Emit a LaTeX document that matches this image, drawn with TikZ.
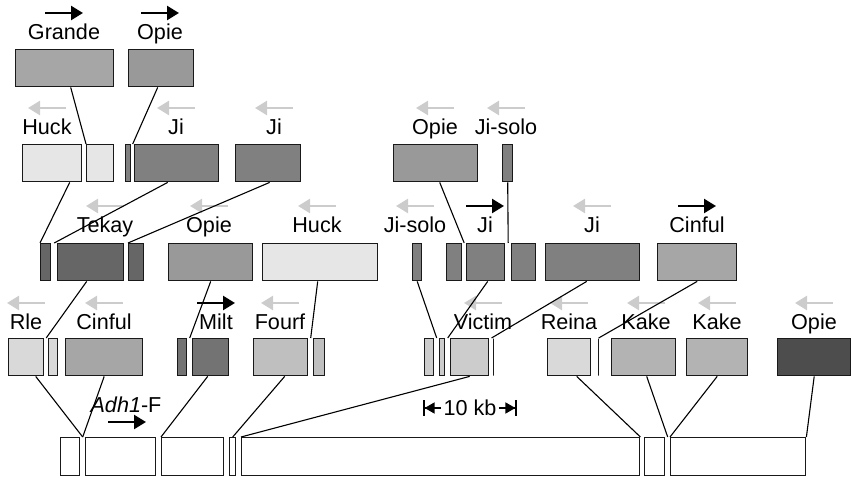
\documentclass[tikz,border=0pt]{standalone}
\usepackage{fontspec}
\setmainfont{Liberation Sans}
\usetikzlibrary{arrows.meta,calc}
\definecolor{huckgray}{HTML}{E6E6E6}
\definecolor{rlegray}{HTML}{D9D9D9}
\definecolor{victimgray}{HTML}{CCCCCC}
\definecolor{fourfgray}{HTML}{BFBFBF}
\definecolor{kakegray}{HTML}{B3B3B3}
\definecolor{cinfulgray}{HTML}{A6A6A6}
\definecolor{opiegray}{HTML}{999999}
\definecolor{jigray}{HTML}{808080}
\definecolor{miltgray}{HTML}{737373}
\definecolor{tekaygray}{HTML}{666666}
\definecolor{darkopie}{HTML}{4D4D4D}
\definecolor{revgray}{HTML}{CCCCCC}
\newlength{\px}
\setlength{\px}{0.5pt}
\tikzset{
  seg/.style={
    draw=black!90, line width=0.7pt, anchor=north west, inner sep=0pt,
    minimum height=37\px
  },
  bar/.style={seg, minimum width=0pt},
  tename/.style={anchor=base, inner sep=0pt, font=\fontsize{10.8}{13}\selectfont},
  fwdarrow/.style={-{Triangle[length=6pt,width=7pt]}, line width=1.2pt, black},
  revarrow/.style={-{Triangle[length=6pt,width=7pt]}, line width=1.2pt, revgray},
  link/.style={line width=0.55pt, black},
  scalearrow/.style={-{Triangle[length=5pt,width=5.5pt]Bar[width=8pt,line width=0.8pt]}, line width=0.8pt}
}

\begin{document}
\begin{tikzpicture}[x=1\px, y=-1\px]
  \useasboundingbox (0,0) rectangle (852,480);

  % Row 1
  \node[seg, fill=cinfulgray, minimum width=98\px] (grande) at (15,49) {};
  \node[seg, fill=opiegray, minimum width=65\px] (opieA) at (128,49) {};
  \node[tename] (grandeL) at (64,40) {Grande};
  \node[tename] (opieAL) at (160,40) {Opie};
  \draw[fwdarrow] ([shift={(-19,-27)}]grandeL.base) -- ++(38,0);
  \draw[fwdarrow] ([shift={(-19,-27)}]opieAL.base) -- ++(38,0);

  % Row 2
  \node[seg, fill=huckgray, minimum width=59\px] (huckA) at (22,144) {};
  \node[seg, fill=huckgray, minimum width=27\px] (huckB) at (86,144) {};
  \node[seg, fill=jigray, minimum width=5\px] (jiAa) at (125,144) {};
  \node[seg, fill=jigray, minimum width=84\px] (jiA) at (134,144) {};
  \node[seg, fill=jigray, minimum width=65\px] (jiB) at (235,144) {};
  \node[seg, fill=opiegray, minimum width=84\px] (opieB) at (393,144) {};
  \node[seg, fill=jigray, minimum width=10\px] (jisoloA) at (502,144) {};
  \node[tename] (huckAL) at (47,135) {Huck};
  \node[tename] (jiAL) at (176,135) {Ji};
  \node[tename] (jiBL) at (274,135) {Ji};
  \node[tename] (opieBL) at (435,135) {Opie};
  \node[tename] (jisoloAL) at (506,135) {Ji-solo};
  \draw[revarrow] ([shift={(19,-27)}]huckAL.base) -- ++(-38,0);
  \draw[revarrow] ([shift={(19,-27)}]jiAL.base) -- ++(-38,0);
  \draw[revarrow] ([shift={(19,-27)}]jiBL.base) -- ++(-38,0);
  \draw[revarrow] ([shift={(19,-27)}]opieBL.base) -- ++(-38,0);
  \draw[revarrow] ([shift={(19,-27)}]jisoloAL.base) -- ++(-38,0);

  % Row 3
  \node[seg, fill=tekaygray, minimum width=10\px] (tekA) at (40,243) {};
  \node[seg, fill=tekaygray, minimum width=66\px] (tekay) at (57,243) {};
  \node[seg, fill=tekaygray, minimum width=15\px] (tekB) at (128,243) {};
  \node[seg, fill=opiegray, minimum width=84\px] (opieC) at (168,243) {};
  \node[seg, fill=huckgray, minimum width=115\px] (huckC) at (262,243) {};
  \node[seg, fill=jigray, minimum width=9\px] (jisoloB) at (412,243) {};
  \node[seg, fill=jigray, minimum width=15\px] (jiCa) at (446,243) {};
  \node[seg, fill=jigray, minimum width=38\px] (jiC) at (466,243) {};
  \node[seg, fill=jigray, minimum width=24\px] (jiCb) at (511,243) {};
  \node[seg, fill=jigray, minimum width=94\px] (jiD) at (545,243) {};
  \node[seg, fill=cinfulgray, minimum width=79\px] (cinfulA) at (657,243) {};
  \node[tename] (tekayL) at (105,233) {Tekay};
  \node[tename] (opieCL) at (209,233) {Opie};
  \node[tename] (huckCL) at (317,233) {Huck};
  \node[tename] (jisoloBL) at (415,233) {Ji-solo};
  \node[tename] (jiCL) at (485,233) {Ji};
  \node[tename] (jiDL) at (592,233) {Ji};
  \node[tename] (cinfulAL) at (697,233) {Cinful};
  \draw[revarrow] ([shift={(19,-27)}]tekayL.base) -- ++(-38,0);
  \draw[revarrow] ([shift={(19,-27)}]opieCL.base) -- ++(-38,0);
  \draw[revarrow] ([shift={(19,-27)}]huckCL.base) -- ++(-38,0);
  \draw[revarrow] ([shift={(19,-27)}]jisoloBL.base) -- ++(-38,0);
  \draw[fwdarrow] ([shift={(-19,-27)}]jiCL.base) -- ++(38,0);
  \draw[revarrow] ([shift={(19,-27)}]jiDL.base) -- ++(-38,0);
  \draw[fwdarrow] ([shift={(-19,-27)}]cinfulAL.base) -- ++(38,0);

  % Row 4
  \node[seg, fill=rlegray, minimum width=35\px] (rleA) at (8,338) {};
  \node[seg, fill=rlegray, minimum width=9\px] (rleB) at (48,338) {};
  \node[seg, fill=cinfulgray, minimum width=77\px] (cinfulB) at (65,338) {};
  \node[seg, fill=miltgray, minimum width=9\px] (miltA) at (177,338) {};
  \node[seg, fill=miltgray, minimum width=36\px] (milt) at (192,338) {};
  \node[seg, fill=fourfgray, minimum width=54\px] (fourf) at (253,338) {};
  \node[seg, fill=fourfgray, minimum width=11\px] (fourfB) at (313,338) {};
  \node[seg, fill=victimgray, minimum width=9\px] (vicA) at (424,338) {};
  \node[seg, fill=victimgray, minimum width=5\px] (vicB) at (439,338) {};
  \node[seg, fill=victimgray, minimum width=38\px] (victim) at (450,338) {};
  \node[bar] (vicbar) at (493,338) {};
  \node[seg, fill=rlegray, minimum width=43\px] (reina) at (547,338) {};
  \node[bar] (reinabar) at (598,338) {};
  \node[seg, fill=kakegray, minimum width=64\px] (kakeA) at (611,338) {};
  \node[seg, fill=kakegray, minimum width=61\px] (kakeB) at (686,338) {};
  \node[seg, fill=darkopie, minimum width=73\px] (opieD) at (777,338) {};
  \node[tename] (rleL) at (26,330) {Rle};
  \node[tename] (cinfulBL) at (104,330) {Cinful};
  \node[tename] (miltL) at (216,330) {Milt};
  \node[tename] (fourfL) at (280,330) {Fourf};
  \node[tename] (victimL) at (483,330) {Victim};
  \node[tename] (reinaL) at (569,330) {Reina};
  \node[tename] (kakeAL) at (646,330) {Kake};
  \node[tename] (kakeBL) at (717,330) {Kake};
  \node[tename] (opieDL) at (814,330) {Opie};
  \draw[revarrow] ([shift={(19,-27)}]rleL.base) -- ++(-38,0);
  \draw[revarrow] ([shift={(19,-27)}]cinfulBL.base) -- ++(-38,0);
  \draw[fwdarrow] ([shift={(-19,-27)}]miltL.base) -- ++(38,0);
  \draw[revarrow] ([shift={(19,-27)}]fourfL.base) -- ++(-38,0);
  \draw[revarrow] ([shift={(19,-27)}]victimL.base) -- ++(-38,0);
  \draw[revarrow] ([shift={(19,-27)}]reinaL.base) -- ++(-38,0);
  \draw[revarrow] ([shift={(19,-27)}]kakeAL.base) -- ++(-38,0);
  \draw[revarrow] ([shift={(19,-27)}]kakeBL.base) -- ++(-38,0);
  \draw[revarrow] ([shift={(19,-27)}]opieDL.base) -- ++(-38,0);

  % Row 5: Adh1-F
  \node[seg, fill=white, minimum width=19\px, minimum height=38\px] (adhA) at (60,437) {};
  \node[seg, fill=white, minimum width=70\px, minimum height=38\px] (adhB) at (85,437) {};
  \node[seg, fill=white, minimum width=62\px, minimum height=38\px] (adhC) at (161,437) {};
  \node[seg, fill=white, minimum width=6\px, minimum height=38\px] (adhD) at (229,437) {};
  \node[seg, fill=white, minimum width=398\px, minimum height=38\px] (adhE) at (241,437) {};
  \node[seg, fill=white, minimum width=20\px, minimum height=38\px] (adhF) at (644,437) {};
  \node[seg, fill=white, minimum width=135\px, minimum height=38\px] (adhG) at (670,437) {};
  \node[tename] (adhL) at (126,413) {\textit{Adh1}-F};
  \draw[fwdarrow] ([shift={(-18,9)}]adhL.base) -- ++(38,0);

  % Scale
  \node[tename, anchor=center, inner sep=1pt] (scale) at (470,408) {10 kb};
  \coordinate (kbleft) at (423,408);
  \coordinate (kbright) at (517,408);
  \draw[scalearrow] (scale.west) -- (kbleft);
  \draw[scalearrow] (scale.east) -- (kbright);

  % Links row 1 to row 2
  \draw[link] ([xshift=6\px]grande.south) -- (huckB.north west);
  \draw[link] ([xshift=-3.5\px]opieA.south) -- ($(jiAa.north east)!.5!(jiA.north west)$);
  % Links row 2 to row 3
  \draw[link] ([xshift=17.5\px]huckA.south) -- (tekA.north west);
  \draw[link] ([xshift=-9\px]jiA.south) -- ($(tekA.north east)!.5!(tekay.north west)$);
  \draw[link] ([xshift=1.5\px]jiB.south) -- (tekB.north west);
  \draw[link] ([xshift=4\px]opieB.south) -- ($(jiCa.north east)!.5!(jiC.north west)$);
  \draw[link] (jisoloA.south) -- ($(jiC.north east)!.5!(jiCb.north west)$);
  % Links row 3 to row 4
  \draw[link] ([xshift=-4\px]tekay.south) -- ($(rleA.north east)!.5!(rleB.north west)$);
  \draw[link] (opieC.south) -- ($(miltA.north east)!.5!(milt.north west)$);
  \draw[link] ([xshift=-2.5\px]huckC.south) -- ($(fourf.north east)!.5!(fourfB.north west)$);
  \draw[link] (jisoloB.south) -- ($(vicA.north east)!.5!(vicB.north west)$);
  \draw[link] ([xshift=2\px]jiC.south) -- ($(vicB.north east)!.5!(victim.north west)$);
  \draw[link] ([xshift=-6\px]jiD.south) -- ($(victim.north east)!.5!(vicbar.north)$);
  \draw[link] (cinfulA.south) -- (reinabar.north);
  % Links row 4 to row 5
  \draw[link] ([xshift=9.5\px]rleA.south) -- ($(adhA.north east)!.5!(adhB.north west)$);
  \draw[link] (cinfulB.south) -- ($(adhA.north east)!.5!(adhB.north west)$);
  \draw[link] ([xshift=-3\px]milt.south) -- (adhC.north west);
  \draw[link] ([xshift=4\px]fourf.south) -- (adhD.north);
  \draw[link] (victim.south) -- (adhE.north west);
  \draw[link] ([xshift=7.5\px]reina.south) -- (adhE.north east);
  \draw[link] ([xshift=3\px]kakeA.south) -- ($(adhF.north east)!.5!(adhG.north west)$);
  \draw[link] (kakeB.south) -- (adhG.north west);
  \draw[link] (opieD.south) -- (adhG.north east);
\end{tikzpicture}
\end{document}
